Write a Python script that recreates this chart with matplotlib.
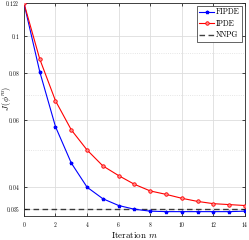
import numpy as np
import matplotlib
matplotlib.use('Agg')
import matplotlib.pyplot as plt
from matplotlib.ticker import FixedLocator, NullFormatter

plt.rcParams['font.family'] = 'serif'
plt.rcParams['font.serif'] = ['cmr10', 'DejaVu Serif']
plt.rcParams['mathtext.fontset'] = 'cm'
plt.rcParams['axes.formatter.use_mathtext'] = True

# Данные
iters = np.arange(15)
fipde = [0.122, 0.0805, 0.0576, 0.0462, 0.0399, 0.0372, 0.0357, 0.0349,
         0.0345, 0.0344, 0.0344, 0.0344, 0.0344, 0.0344, 0.0345]
ipde = [0.122, 0.0869, 0.0674, 0.0565, 0.0500, 0.0454, 0.0428, 0.0406,
        0.0390, 0.0382, 0.0373, 0.0366, 0.0361, 0.0359, 0.0357]
nnpg = 0.0350
yticks = [0.035, 0.04, 0.06, 0.08, 0.1, 0.122]
yticklabels = ['0.035', '0.04', '0.06', '0.08', '0.1', '0.122']
yminor = [0.05, 0.07, 0.09]

fig = plt.figure(figsize=(2.49, 2.40), dpi=100)
ax = fig.add_axes([0.096, 0.1, 0.888, 0.8875])

ax.plot(iters, fipde, color='blue', lw=0.8, marker='*', ms=2.5, label='FIPDE', zorder=3)
ax.plot(iters, ipde, color='red', lw=0.8, marker='o', ms=2.5,
        mfc=(1, 0.55, 0.55), mec='red', mew=0.6, label='IPDE', zorder=3)
ax.axhline(nnpg, color='k', ls=(0, (4, 2.5)), lw=1.0, alpha=0.75, label='NNPG', zorder=2)

ax.set_yscale('log')
ax.set_xlim(0, 14)
ax.set_ylim(0.0335, 0.122)
ax.yaxis.set_major_locator(FixedLocator(yticks))
ax.set_yticklabels(['$%s$' % t for t in yticklabels])
ax.yaxis.set_minor_locator(FixedLocator(yminor))
ax.yaxis.set_minor_formatter(NullFormatter())
xt = np.arange(0, 15, 2)
ax.set_xticks(xt)
ax.set_xticklabels(['$%d$' % v for v in xt])

ax.grid(True, which='major', color='#dddddd', lw=0.6)
ax.grid(True, which='minor', axis='y', color='#dddddd', lw=0.6, ls=':')
ax.set_axisbelow(True)

ax.tick_params(direction='in', labelsize=4, length=2.5, width=0.5, pad=3,
               top=True, right=True)
ax.tick_params(which='minor', length=0)
for s in ax.spines.values():
    s.set_linewidth(0.6)
    s.set_color('#262626')

ax.set_xlabel('Iteration $m$', fontsize=6.5)
ax.xaxis.set_label_coords(0.5, -0.068, transform=ax.transAxes)
ax.xaxis.label.set_va('top')
ax.set_ylabel(r'$J\,(\phi^m)$', fontsize=6)
ax.yaxis.set_label_coords(-0.05, 0.55)

leg = ax.legend(loc='upper right', fontsize=5.5, fancybox=False, edgecolor='#262626',
                framealpha=1, handlelength=2.0, borderpad=0.3, labelspacing=0.4,
                handletextpad=0.25, borderaxespad=0.35)
leg.get_frame().set_linewidth(0.5)

fig.savefig('out.png', dpi=100)
